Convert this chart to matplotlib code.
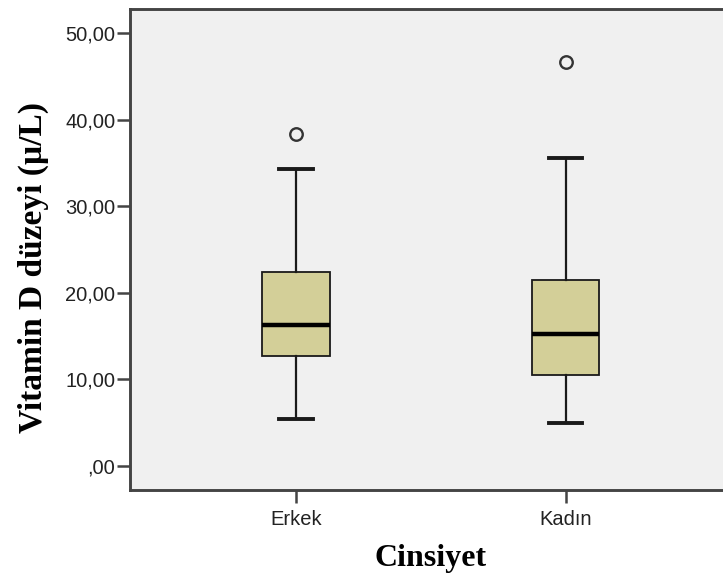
import matplotlib
matplotlib.use("Agg")
import matplotlib.pyplot as plt
from matplotlib.ticker import FuncFormatter

# values
groups = ["Erkek", "Kadın"]
whislo = [5.4, 5.0]
q1 = [12.7, 10.5]
med = [16.3, 15.2]
q3 = [22.4, 21.5]
whishi = [34.3, 35.6]
fliers = [[38.4], [46.7]]
yticks = [0, 10, 20, 30, 40, 50]

stats = []
for i in range(len(groups)):
    stats.append(dict(label=groups[i], whislo=whislo[i], q1=q1[i], med=med[i],
                      q3=q3[i], whishi=whishi[i], fliers=fliers[i]))

fig = plt.figure(figsize=(7.23, 5.76), dpi=100)
ax = fig.add_axes([0.1798, 0.1493, 0.832, 0.835])
ax.set_facecolor("#f0f0f0")

ax.bxp(stats, positions=[1, 2], widths=0.25, patch_artist=True,
       boxprops=dict(facecolor="#d3cf98", edgecolor="#1a1a1a", linewidth=1.3),
       medianprops=dict(color="black", linewidth=3.2),
       whiskerprops=dict(color="#1a1a1a", linewidth=1.6),
       capprops=dict(color="#1a1a1a", linewidth=2.8),
       capwidths=0.125,
       flierprops=dict(marker="o", markersize=9, markerfacecolor="none",
                       markeredgecolor="#333333", markeredgewidth=1.7))

ax.set_xlim(0.385, 2.615)
ax.set_ylim(-2.77, 52.8)
ax.set_yticks(yticks)
ax.yaxis.set_major_formatter(FuncFormatter(lambda v, p: ("%d,00" % v) if v != 0 else ",00"))
ax.set_xticks([1, 2])
ax.set_xticklabels(groups)

for s in ax.spines.values():
    s.set_color("#444444")
    s.set_linewidth(2.1)
ax.tick_params(axis="both", direction="out", length=9.5, width=1.8, color="#444444",
               labelsize=14.5, labelcolor="#222222")
ax.tick_params(axis="y", pad=1)
ax.tick_params(axis="x", pad=5)
for lab in ax.get_xticklabels() + ax.get_yticklabels():
    lab.set_family("Liberation Sans")

ax.set_ylabel("Vitamin D düzeyi (µ/L)", family="Liberation Serif", fontweight="bold",
              fontsize=24, labelpad=12)
ax.yaxis.label.set_y(0.463)
ax.set_xlabel("Cinsiyet", family="Liberation Serif", fontweight="bold",
              fontsize=23, labelpad=11)

fig.savefig("out.png", dpi=100)
